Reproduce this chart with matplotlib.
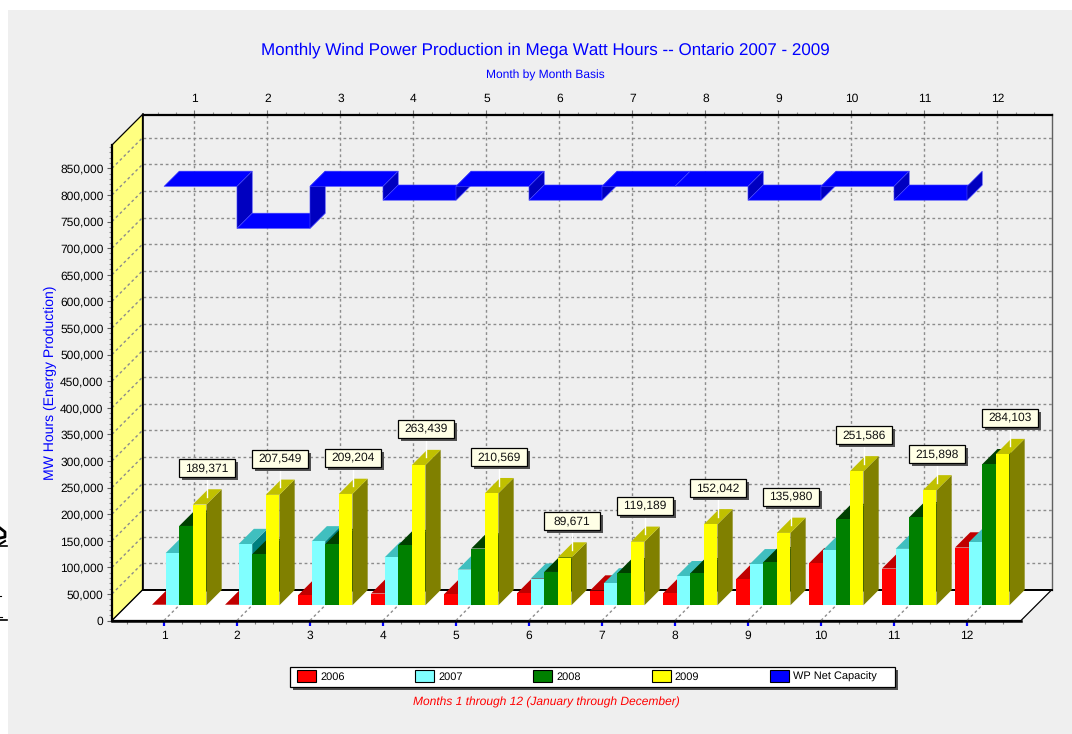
import matplotlib
matplotlib.use("Agg")
import matplotlib.pyplot as plt
from matplotlib.patches import Patch, Polygon, Rectangle
from matplotlib.lines import Line2D
from matplotlib.ticker import FixedLocator, MultipleLocator, StrMethodFormatter

plt.rcParams["font.family"] = ["Liberation Sans", "DejaVu Sans"]
plt.rcParams["text.hinting"] = "no_hinting"
plt.rcParams["text.hinting_factor"] = 1

months = [1, 2, 3, 4, 5, 6, 7, 8, 9, 10, 11, 12]
v2006 = [1000, 1000, 18800, 22000, 20700, 22500, 27600, 22500, 48900, 79000, 69000, 108500]
v2007 = [98000, 115000, 120000, 90000, 67000, 50000, 41000, 54500, 77000, 103000, 106000, 118000]
v2008 = [149000, 96000, 115000, 113000, 106600, 62600, 60000, 60000, 80800, 162000, 165400, 265000]
v2009 = [189371, 207549, 209204, 263439, 210569, 89671, 119189, 152042, 135980, 251586, 215898, 284103]
capacity = [816000, 737000, 816000, 790000, 816000, 790000, 816000, 816000, 790000, 816000, 790000, 816000]

names = ["2006", "2007", "2008", "2009", "WP Net Capacity"]
fronts = ["#FF0000", "#80FFFF", "#008000", "#FFFF00", "#0000FF"]
tops = ["#C00000", "#40BFBF", "#004000", "#C0C000"]
sides = ["#800000", "#008080", "#004000", "#808000"]

W, H = 1072, 734
XMIN, XMAX = 0.288, 12.74
YMAX = 893800
PX_X = 1 / 73.0          # months per pixel
PX_Y = 1 / 0.000532      # MWh per pixel
DEPTH = 30.5             # pixels between front and back plane
GRID = "#8C8C8C"


def proj(x, y, d):
    # d=0 front plane, d=1 back wall
    return (x + d * DEPTH * PX_X, y + d * DEPTH * PX_Y)


def box(left, top, right, bottom):
    return [left / W, 1 - bottom / H, (right - left) / W, (bottom - top) / H]


fig = plt.figure(figsize=(W / 100, H / 100), dpi=100, facecolor="white")
fig.add_artist(Rectangle((8 / W, 0), 1, 1 - 10 / H, transform=fig.transFigure, fc="#EFEFEF", ec="none", zorder=-5))

# back wall, this axes carries the grid and the top month axis
back = fig.add_axes(box(112 + DEPTH, 145 - DEPTH, 1021 + DEPTH, 620.5 - DEPTH), facecolor="none")
back.set_xlim(XMIN, XMAX)
back.set_ylim(0, YMAX)
back.xaxis.set_major_locator(FixedLocator(months))
back.xaxis.set_minor_locator(MultipleLocator(0.25))
back.yaxis.set_major_locator(MultipleLocator(50000))
back.grid(True, which="major", color=GRID, lw=1, ls=(0, (2, 2)))
back.set_axisbelow(True)
back.tick_params(axis="x", which="both", bottom=False, labelbottom=False, top=True, labeltop=True)
back.tick_params(axis="x", which="major", length=3.5, width=0.8, color="#707070", labelsize=8.6, pad=3.5)
back.tick_params(axis="x", which="minor", length=2.2, width=0.8, color="#909090")
back.tick_params(axis="y", which="both", left=False, labelleft=False)
back.spines["top"].set_linewidth(1.6)
back.spines["left"].set_linewidth(1.2)
back.spines["bottom"].set_linewidth(1.4)
back.spines["right"].set_color("#606060")
back.spines["right"].set_linewidth(1)

ax = fig.add_axes(box(112, 145, 1021, 620.5), facecolor="none")
ax.set_xlim(XMIN, XMAX)
ax.set_ylim(0, YMAX)
ax.xaxis.set_major_locator(FixedLocator(months))
ax.xaxis.set_minor_locator(MultipleLocator(0.25))
ax.yaxis.set_major_locator(MultipleLocator(50000))
ax.yaxis.set_minor_locator(MultipleLocator(10000))
ax.yaxis.set_major_formatter(StrMethodFormatter("{x:,.0f}"))
ax.tick_params(axis="x", which="major", length=3.5, width=1.6, color="#0000FF", labelsize=8.6, pad=3.5)
ax.tick_params(axis="x", which="minor", length=2.2, width=0.8, color="#808080")
ax.tick_params(axis="y", which="major", length=3.6, width=0.8, color="#606060", labelsize=8.6, pad=2.5)
ax.tick_params(axis="y", which="minor", length=2.2, width=0.8, color="#909090")
ax.spines["top"].set_visible(False)
ax.spines["right"].set_visible(False)
ax.spines["left"].set_linewidth(1.6)
ax.spines["bottom"].set_linewidth(1.8)
ax.set_ylabel("MW Hours (Energy Production)", color="#0000FF", fontsize=10.3, labelpad=2.5)


def face(points, color, edge="none", lw=0.0, z=2):
    ax.add_patch(Polygon(points, closed=True, fc=color, ec=edge, lw=lw, clip_on=False, zorder=z))


# side wall and floor
face([proj(XMIN, 0, 0), proj(XMIN, YMAX, 0), proj(XMIN, YMAX, 1), proj(XMIN, 0, 1)], "#FFFF80", "black", 0.9, 1)
face([proj(XMIN, 0, 0), proj(XMAX, 0, 0), proj(XMAX, 0, 1), proj(XMIN, 0, 1)], "white", "black", 0.9, 1)
ax.plot(*zip(proj(XMIN, 0, 1), proj(XMAX, 0, 1)), color="black", lw=1.4, clip_on=False, zorder=1.5)

# dotted lines on side wall and floor
for v in range(50000, 850001, 50000):
    ax.plot(*zip(proj(XMIN, v, 0), proj(XMIN, v, 1)), color=GRID, lw=1, ls=(0, (2, 2)), clip_on=False, zorder=1.5)
for m in months:
    ax.plot(*zip(proj(m, 0, 0), proj(m, 0, 1)), color=GRID, lw=1, ls=(0, (2, 2)), clip_on=False, zorder=1.5)

# capacity ribbon, a stepped strip from each month to the next
ribbon_edge = "#4A4AFF"
for i, m in enumerate(months):
    v = capacity[i]
    if i > 0:
        p = capacity[i - 1]
        face([proj(m, p, 0), proj(m, v, 0), proj(m, v, 0.5), proj(m, p, 0.5)], "#0000C0", ribbon_edge, 0.4, 3)
    if i < len(months) - 1:
        face([proj(m, v, 0), proj(m + 1, v, 0), proj(m + 1, v, 0.5), proj(m, v, 0.5)], "#0000FF", ribbon_edge, 0.4, 3)

# bars sit between the middle of the depth and the back
bar_w = 13.6 * PX_X
series = [v2006, v2007, v2008, v2009]
for i, m in enumerate(months):
    for s, vals in enumerate(series):
        v = vals[i]
        x0 = m + (s - 2) * bar_w
        x1 = x0 + bar_w
        face([proj(x1, 0, 0.5), proj(x1, 0, 1), proj(x1, v, 1), proj(x1, v, 0.5)], sides[s], z=4 + s * 0.1)
        face([proj(x0, v, 0.5), proj(x1, v, 0.5), proj(x1, v, 1), proj(x0, v, 1)], tops[s], z=4 + s * 0.1)
        face([proj(x0, 0, 0.5), proj(x1, 0, 0.5), proj(x1, v, 0.5), proj(x0, v, 0.5)], fronts[s], z=4 + s * 0.1)

# value labels above the 2009 bars
for i, m in enumerate(months):
    v = v2009[i]
    lx, ly = proj(m + 1.5 * bar_w, v, 0.75)
    bw = 56 * PX_X
    bh = 18 * PX_Y
    cy = v + 36.5 * PX_Y + 15 * PX_Y
    cx = lx
    ax.plot([lx, lx], [ly, cy - bh / 2], color="white", lw=1, clip_on=False, zorder=5)
    ax.add_patch(Rectangle((cx - bw / 2 + 3 * PX_X, cy - bh / 2 - 3 * PX_Y), bw, bh, fc="#505050", ec="none", clip_on=False, zorder=6))
    ax.add_patch(Rectangle((cx - bw / 2, cy - bh / 2), bw, bh, fc="#FFFFE6", ec="black", lw=0.9, clip_on=False, zorder=6.1))
    ax.text(cx, cy, f"{v:,}", ha="center", va="center", fontsize=8.6, color="#111111", clip_on=False, zorder=6.2)

fig.text(545 / W, 1 - 50 / H, "Monthly Wind Power Production in Mega Watt Hours -- Ontario 2007 - 2009",
         color="#0000FF", fontsize=12.2, ha="center", va="center")
fig.text(545 / W, 1 - 75 / H, "Month by Month Basis", color="#0000FF", fontsize=8.3, ha="center", va="center")
fig.text(546 / W, 1 - 702 / H, "Months 1 through 12 (January through December)", color="#FF0000",
         fontsize=8.7, style="italic", ha="center", va="center")

# legend frame drawn by hand, its padding is uneven in the original
fig.add_artist(Rectangle((293 / W, 1 - 690 / H), 605 / W, 20 / H, transform=fig.transFigure, fc="#505050", ec="none", zorder=3))
fig.add_artist(Rectangle((290 / W, 1 - 687 / H), 605 / W, 20 / H, transform=fig.transFigure, fc="white", ec="black", lw=0.9, zorder=3.1))
handles = [Patch(fc=c, ec="black", lw=0.8) for c in fronts]
leg = fig.legend(handles, names, loc="upper left", bbox_to_anchor=(297 / W, 1 - 670 / H), bbox_transform=fig.transFigure,
                 borderaxespad=0, ncol=5, fontsize=8.2, frameon=False, handlelength=1.67, handleheight=1.22,
                 handletextpad=0.36, columnspacing=6.2, borderpad=0)
leg.set_zorder(4)

# scraps of the neighbouring page on the left edge
for y0, x0, x1, lw in [(546, 0, 7, 1.2), (620, 0, 7, 1.2), (596, 0, 1, 0.8), (617, 0, 2, 0.8)]:
    fig.add_artist(Line2D([x0 / W, x1 / W], [1 - y0 / H, 1 - y0 / H], color="black", lw=lw))
fig.add_artist(Line2D([0, 5 / W, 5 / W, 0], [1 - 528 / H, 1 - 532 / H, 1 - 537 / H, 1 - 538 / H], color="black", lw=2))
fig.add_artist(Line2D([0, 5 / W], [1 - 544 / H, 1 - 541 / H], color="black", lw=1.5))

fig.savefig("out.png", dpi=100, facecolor=fig.get_facecolor())
